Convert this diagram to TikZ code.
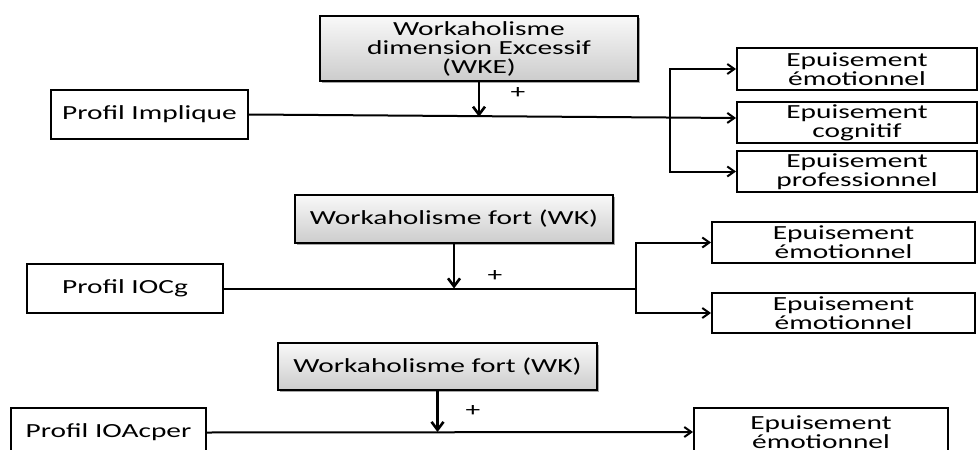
\documentclass[tikz,border=0pt]{standalone}
\usepackage{fontspec}
\setmainfont[FakeStretch=1.47]{Carlito}
\usetikzlibrary{arrows.meta,shadows}
\begin{document}
\begin{tikzpicture}[x=1pt,y=-1pt,
  every node/.style={font=\fontsize{20}{19}\selectfont},
  box/.style={draw=black,line width=2pt,fill=white,align=center,inner sep=0pt},
  modbox/.style={box,top color=gray!5,bottom color=gray!40,
    drop shadow={shadow xshift=2pt,shadow yshift=-2pt,opacity=0.35,fill=black}},
  tip/.tip={Straight Barb[length=7pt,width=10pt,line width=2pt]},
  conn/.style={line width=2pt,-tip},
  conn2/.style={line width=2pt,tip-tip},
  plainline/.style={line width=2pt},
  modarr/.style={line width=2.8pt,-{Straight Barb[length=8pt,width=12pt,line width=2.6pt]}},
  plus/.style={inner sep=0pt}
  ]
\useasboundingbox (0,0) rectangle (978,450);
\clip (0,0) rectangle (978,450);

% ---- Section 1
\node[modbox,minimum width=318pt,minimum height=65pt] (wke) at (479,48.5) {Workaholisme\\dimension Excessif\\(WKE)};
\node[box,minimum width=197pt,minimum height=49pt] (pi) at (149.5,114.5) {Profil Implique};
\node[box,minimum width=240pt,minimum height=42pt] (e1a) at (857,69) {Epuisement\\émotionnel};
\node[box,minimum width=240pt,minimum height=41pt] (e1b) at (857,122.5) {Epuisement\\cognitif};
\node[box,minimum width=240pt,minimum height=41pt] (e1c) at (857,171.5) {Epuisement\\professionnel};
\coordinate (j1) at (479,116.8);
\draw[conn] (pi.east) -- ([yshift=4.5pt]e1b.west);
\draw[modarr] (wke.south) -- (j1);
\draw[conn2] (e1a.west) -- ++(-66,0) |- (e1c.west);
\node[plus] (p1) at (518,93) {+};

% ---- Section 2
\node[modbox,minimum width=318pt,minimum height=48pt] (wk2) at (454,219) {Workaholisme fort (WK)};
\node[box,minimum width=196pt,minimum height=49pt] (iocg) at (125,288.5) {Profil IOCg};
\node[box,minimum width=263pt,minimum height=41pt] (e2a) at (843.5,242.5) {Epuisement\\émotionnel};
\node[box,minimum width=263pt,minimum height=40pt] (e2b) at (843.5,313) {Epuisement\\émotionnel};
\coordinate (k2) at (637,288.5);
\coordinate (j2) at (454,288.5);
\draw[plainline] (iocg.east) -- (k2);
\draw[conn2] (e2a.west) -- ++(-75,0) |- (e2b.west);
\draw[modarr] (wk2.south) -- (j2);
\node[plus] (p2) at (495,276) {+};

% ---- Section 3
\node[modbox,minimum width=319pt,minimum height=47pt] (wk3) at (437.5,366.5) {Workaholisme fort (WK)};
\node[box,minimum width=195pt,minimum height=49pt] (ioa) at (108.5,432.5) {Profil IOAcper};
\node[box,minimum width=254pt,minimum height=48pt] (e3) at (821,432) {Epuisement\\émotionnel};
\coordinate (j3) at (437.5,432);
\draw[conn] (ioa.east) -- (e3.west);
\draw[modarr] (wk3.south) -- (j3);
\node[plus] (p3) at (473,411) {+};
\end{tikzpicture}
\end{document}
